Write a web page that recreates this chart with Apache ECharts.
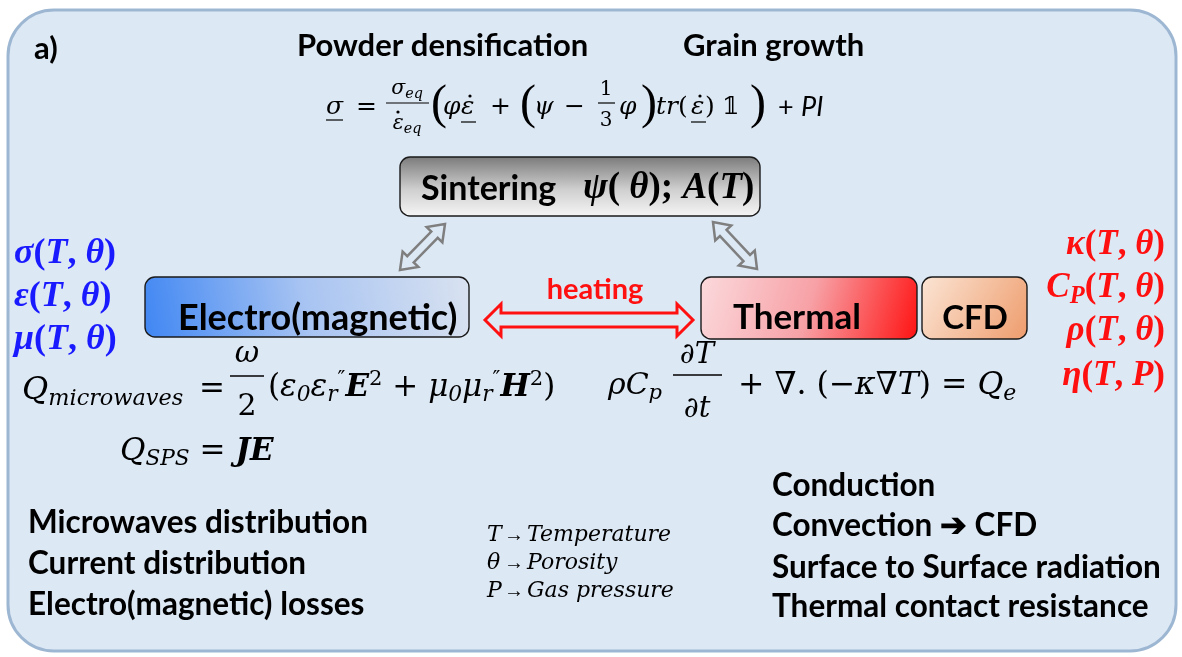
<!DOCTYPE html>
<html>
<head>
<meta charset="utf-8">
<script src="https://cdn.jsdelivr.net/npm/echarts@6/dist/echarts.min.js"></script>
<style>
  html, body { margin: 0; padding: 0; background: #fff; }
  #main { width: 1182px; height: 657px; }
</style>
</head>
<body>
<div id="main"></div>
<script>
// texts of the diagram
const headings = ['Powder densification', 'Grain growth'];
const modules = ['Sintering', 'Electro(magnetic)', 'Thermal', 'CFD'];
const couplingLabel = 'heating';
const electroSymbols = ['σ', 'ε', 'μ'];
const electroArgs = ['T', 'θ'];
const thermalSymbols = ['κ', 'C', 'ρ', 'η'];
const thermalSubs = ['', 'P', '', ''];
const thermalArgs = [['T', 'θ'], ['T', 'θ'], ['T', 'θ'], ['T', 'P']];
const emPhysics = ['Microwaves distribution', 'Current distribution', 'Electro(magnetic) losses'];
const heatPhysics = ['Conduction', 'Convection \u2794 CFD', 'Surface to Surface radiation', 'Thermal contact resistance'];
const legendSymbols = ['T', 'θ', 'P'];
const legendNames = ['Temperature', 'Porosity', 'Gas pressure'];

const serif = '"DejaVu Serif", "Liberation Serif", serif';
const serifB = '"Liberation Serif", "DejaVu Serif", serif';
const sans = 'Lato, "Open Sans", sans-serif';
const bg = '#dde8f5';

const g = [];

function text(x, y, str, style) {
    g.push({
        type: 'text', x: x, y: y, z: 10,
        style: Object.assign({text: str, align: 'left', verticalAlign: 'middle', fill: '#000'}, style)
    });
}

function line(x1, y1, x2, y2, color, w) {
    g.push({type: 'line', z: 10, shape: {x1: x1, y1: y1, x2: x2, y2: y2}, style: {stroke: color || '#000', lineWidth: w || 1.2}});
}

function dot(x, y) {
    g.push({type: 'circle', z: 10, shape: {cx: x, cy: y, r: 1.6}, style: {fill: '#000'}});
}

// math rich styles for a given size
function mathRich(size, color, bold, fam) {
    const fw = bold ? 'bold' : 'normal';
    const f = fam || serif;
    return {
        i: {fontFamily: f, fontStyle: 'italic', fontWeight: fw, fontSize: size, lineHeight: size * 1.2, fill: color},
        u: {fontFamily: f, fontWeight: fw, fontSize: size, lineHeight: size * 1.2, fill: color},
        b: {fontFamily: f, fontStyle: 'italic', fontWeight: 'bold', fontSize: size, lineHeight: size * 1.2, fill: color},
        s: {fontFamily: f, fontStyle: 'italic', fontWeight: fw, fontSize: size * 0.7, lineHeight: size * 0.55, verticalAlign: 'bottom', fill: color},
        sp: {fontFamily: f, fontWeight: fw, fontSize: size * 0.68, lineHeight: size * 0.55, verticalAlign: 'top', fill: color}
    };
}

function math(x, y, str, size, opts) {
    opts = opts || {};
    text(x, y, str, {rich: mathRich(size, opts.color || '#000', opts.bold, opts.fam), align: opts.align || 'left'});
}

function doubleArrow(x1, y1, x2, y2, sw, hw, hl, color, lw) {
    const L = Math.hypot(x2 - x1, y2 - y1);
    const ux = (x2 - x1) / L, uy = (y2 - y1) / L;
    const nx = -uy, ny = ux;
    const p = (d, o) => [x1 + ux * d + nx * o, y1 + uy * d + ny * o];
    g.push({
        type: 'polygon', z: 5,
        shape: {points: [
            p(0, 0), p(hl, hw), p(hl, sw), p(L - hl, sw), p(L - hl, hw), p(L, 0),
            p(L - hl, -hw), p(L - hl, -sw), p(hl, -sw), p(hl, -hw)
        ]},
        style: {fill: bg, stroke: color, lineWidth: lw, lineJoin: 'miter'}
    });
}

function box(x, y, w, h, fill) {
    g.push({type: 'rect', z: 4, shape: {x: x, y: y, width: w, height: h, r: 10},
        style: {fill: fill, stroke: '#1a1a1a', lineWidth: 1.4}});
}
const grad = (x0, y0, x1, y1, stops) =>
    new echarts.graphic.LinearGradient(x0, y0, x1, y1, stops.map(s => ({offset: s[0], color: s[1]})));

// outer panel
g.push({type: 'rect', z: 1, shape: {x: 8, y: 10, width: 1168, height: 641, r: 46},
    style: {fill: bg, stroke: '#9db7d3', lineWidth: 3}});

text(34, 49, 'a)', {font: 'bold 31px ' + sans});
text(297, 46, headings[0], {font: 'bold 31px ' + sans});
text(683, 46, headings[1], {font: 'bold 31px ' + sans});

// constitutive law
const fs = 25;
math(326, 107, '{i|σ}', fs); line(326, 120, 343, 120);
math(356, 107, '{u|=}', fs);
math(407, 89, '{i|σ}{s|eq}', fs * 0.82, {align: 'center'});
line(386, 103, 429, 103);
math(407, 124, '{i|ε}{s|eq}', fs * 0.82, {align: 'center'});
dot(398, 112);
math(431, 105, '{u|(}', 48, {fam: serifB});
math(443, 107, '{i|φ}', fs);
math(461, 107, '{i|ε}', fs); line(461, 122, 476, 122); dot(470, 96);
math(490, 107, '{u|+}', fs);
math(520, 105, '{u|(}', 48, {fam: serifB});
math(534, 107, '{i|ψ}', fs);
math(564, 107, '{u|−}', fs);
math(606, 90, '{u|1}', fs * 0.8, {align: 'center'});
line(598, 103, 615, 103);
math(606, 121, '{u|3}', fs * 0.8, {align: 'center'});
math(619, 107, '{i|φ}', fs);
math(641, 105, '{u|)}', 48, {fam: serifB});
math(656, 107, '{i|tr}{u|(}', fs);
math(691, 107, '{i|ε}', fs);
line(691, 122, 706, 122); dot(700, 96);
math(705, 107, '{u|)}', fs);
math(722, 107, '{u|𝟙}', fs);
math(750, 105, '{u|)}', 48, {fam: serifB});
text(778, 107, '+ ', {font: '27px ' + sans});
text(801, 107, 'PI', {font: 'italic 27px ' + sans});

// modules
box(400, 157, 360, 59, grad(0, 0, 0, 1, [[0, '#7a7a7a'], [0.55, '#cfcfcf'], [1, '#f6f6f6']]));
text(421, 189, modules[0], {font: 'bold 34px ' + sans});
math(583, 188, '{b|ψ}{u|( }{b|θ}{u|); }{b|A}{u|(}{b|T}{u|)}', 37, {bold: true, fam: serifB});

box(145, 277, 324, 60, grad(0, 1, 1, 0, [[0, '#3f86f3'], [0.5, '#a8c4f2'], [1, '#d9e2f0']]));
text(178, 318, modules[1], {font: 'bold 36px ' + sans});

box(701, 277, 216, 62, grad(0, 0, 1, 1, [[0, '#fbdadd'], [0.5, '#f7a1a6'], [1, '#ff1212']]));
text(733, 318, modules[2], {font: 'bold 35px ' + sans});
box(922, 277, 105, 62, grad(0, 0, 1, 1, [[0, '#fbe5d5'], [1, '#ee9c6c']]));
text(975, 318, modules[3], {font: 'bold 33px ' + sans, align: 'center'});

// couplings
doubleArrow(445, 224, 400, 270, 4.5, 11, 15, '#7f7f7f', 2.5);
doubleArrow(713, 222, 757, 269, 4.5, 11, 15, '#7f7f7f', 2.5);
doubleArrow(485, 320, 693, 320, 7, 16, 16, '#ff1010', 3);
text(595, 290, couplingLabel, {font: 'bold 29px ' + sans, fill: '#ff1010', align: 'center'});

// material properties
electroSymbols.forEach((s, i) => {
    math(14, 254 + i * 43, '{b|' + s + '}{u|(}{b|' + electroArgs[0] + '}{u|, }{b|' + electroArgs[1] + '}{u|)}', 36,
        {color: '#1a1aff', bold: true, fam: serifB});
});
const thermalY = [245, 288, 331, 376];
thermalSymbols.forEach((s, i) => {
    const sub = thermalSubs[i] ? '{s|' + thermalSubs[i] + '}' : '';
    math(1165, thermalY[i], '{b|' + s + '}' + sub + '{u|(}{b|' + thermalArgs[i][0] + '}{u|, }{b|' + thermalArgs[i][1] + '}{u|)}', 35,
        {color: '#ff1010', bold: true, align: 'right', fam: serifB});
});

// heat sources
math(22, 391, '{i|Q}{s|microwaves}', 32);
math(199, 390, '{u|=}', 31);
math(247, 354, '{i|ω}', 30, {align: 'center'});
line(230, 376, 264, 376, '#000', 1.5);
math(247, 407, '{u|2}', 30, {align: 'center'});
math(268, 388, '{u|(}{i|ε}{s|0}{i|ε}{s|r}{sp|″}{b|E}{sp|2}{u| + }{i|μ}{s|0}{i|μ}{s|r}{sp|″}{b|H}{sp|2}{u|)}', 31);
math(120, 452, '{i|Q}{s|SPS}{u| = }{b|JE}', 31);

// heat equation
math(608, 386, '{i|ρC}{s|p}', 30);
math(697, 355, '{i|∂T}', 29, {align: 'center'});
line(673, 375, 722, 375, '#000', 1.5);
math(697, 409, '{i|∂t}', 29, {align: 'center'});
math(738, 386, '{u|+ ∇. (−}{i|κ}{u|∇}{i|T}{u|) = }{i|Q}{s|e}', 31.5);

// lists
emPhysics.forEach((s, i) => text(28, 523 + i * 41, s, {font: 'bold 31.5px ' + sans}));
heatPhysics.forEach((s, i) => text(772, [486, 526, 568, 607][i], s, {font: 'bold 31.5px ' + sans}));
legendSymbols.forEach((s, i) => {
    math(487, 535 + i * 28, '{i|' + s + '}', 22);
    math(504, 536 + i * 28, '{u|→}', 20, {fam: serifB});
    math(527, 535 + i * 28, '{i|' + legendNames[i] + '}', 22);
});

const chart = echarts.init(document.getElementById('main'));
chart.setOption({
    backgroundColor: '#ffffff',
    animation: false,
    graphic: {elements: g}
});
</script>
</body>
</html>
